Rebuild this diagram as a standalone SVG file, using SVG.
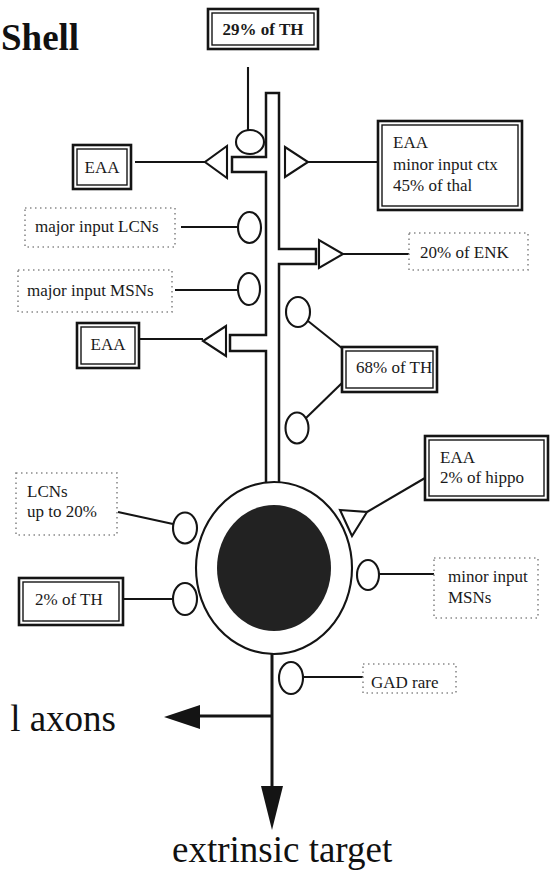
<svg xmlns="http://www.w3.org/2000/svg" width="551" height="871" viewBox="0 0 551 871">
<style>
  .ln{stroke:#141414;stroke-width:2.1;fill:none}
  .sh{stroke:#141414;stroke-width:2.5;fill:none;stroke-linejoin:miter}
  .syn{stroke:#141414;stroke-width:2.1;fill:#fff}
  .bo{fill:#fff;stroke:#141414;stroke-width:2.6}
  .bi{fill:none;stroke:#141414;stroke-width:1.4}
  .dot{fill:#fff;stroke:#8a8a8a;stroke-width:1.6;stroke-dasharray:1.5 3.5}
  .lab{font-family:"Liberation Serif","Times New Roman",serif;font-size:17px;fill:#1a1a1a}
  .big{font-family:"Liberation Serif","Times New Roman",serif;font-size:37px;fill:#111}
</style>

<!-- headings -->
<text class="big" x="1" y="50" font-weight="bold" font-size="33">Shell</text>
<text class="big" x="116" y="731" text-anchor="end" font-size="43">l axons</text>
<text class="big" x="172" y="862">extrinsic target</text>

<!-- neuron body: dendrite shaft, soma, nucleus -->
<g id="neuron">
  <path class="sh" d="M266,482 V351 H230 V335 H266 V172 H232 V157 H266 V93 H279 V249 H316 V264 H279 V482"/>
  <ellipse cx="274" cy="568" rx="78" ry="86" fill="#fff" stroke="#141414" stroke-width="2.1"/>
  <ellipse cx="274" cy="568" rx="57" ry="63" fill="#222"/>
</g>

<!-- synaptic contacts on the neuron -->
<g id="synapses">
  <ellipse class="syn" cx="250" cy="142" rx="14" ry="12"/>
  <polygon class="syn" points="227,146 227,178 205,162"/>
  <polygon class="syn" points="285,147 285,177 308,162"/>
  <ellipse class="syn" cx="249.5" cy="227.5" rx="11.5" ry="15.5"/>
  <polygon class="syn" points="319,240 319,268 343,254"/>
  <ellipse class="syn" cx="249" cy="289" rx="11" ry="16"/>
  <ellipse class="syn" cx="298" cy="312" rx="12" ry="15"/>
  <polygon class="syn" points="226,326 226,356 203,341"/>
  <ellipse class="syn" cx="297" cy="428" rx="11.5" ry="15.5"/>
  <polygon class="syn" points="340,510 367,512 352,536"/>
  <ellipse class="syn" cx="185" cy="528" rx="12" ry="15.5"/>
  <ellipse class="syn" cx="368" cy="575" rx="11" ry="15"/>
  <ellipse class="syn" cx="185" cy="599" rx="12" ry="16"/>
  <ellipse class="syn" cx="291" cy="678" rx="12" ry="16"/>
</g>

<!-- connectors -->
<g id="connectors">
  <line class="ln" x1="248" y1="67" x2="248" y2="130"/>
  <line class="ln" x1="135" y1="162" x2="205" y2="162"/>
  <line class="ln" x1="308" y1="162" x2="378" y2="162"/>
  <line class="ln" x1="181" y1="227" x2="238" y2="227"/>
  <line class="ln" x1="343" y1="254" x2="409" y2="254"/>
  <line class="ln" x1="175" y1="290" x2="238" y2="290"/>
  <line class="ln" x1="140" y1="339" x2="203" y2="339"/>
  <line class="ln" x1="308" y1="321" x2="343" y2="349"/>
  <line class="ln" x1="306" y1="418" x2="342" y2="383"/>
  <line class="ln" x1="367" y1="512" x2="425" y2="478"/>
  <line class="ln" x1="118" y1="512" x2="173" y2="524"/>
  <line class="ln" x1="379" y1="574" x2="434" y2="574"/>
  <line class="ln" x1="123" y1="599" x2="173" y2="599"/>
  <line class="ln" x1="303" y1="677" x2="363" y2="677"/>
  <!-- axon with collateral and main projection -->
  <line x1="272" y1="654" x2="272" y2="790" stroke="#141414" stroke-width="3"/>
  <line x1="272" y1="716" x2="198" y2="716" stroke="#141414" stroke-width="3"/>
  <polygon points="164,717 200,705 200,729" fill="#141414"/>
  <polygon points="272,830 261,786 283,786" fill="#141414"/>
</g>

<!-- labelled input boxes -->
<g id="box-th29">
  <rect class="bo" x="208" y="9" width="110" height="40"/>
  <rect class="bi" x="212" y="13" width="102" height="32"/>
  <text class="lab" x="263" y="35" text-anchor="middle" font-weight="bold" font-size="16">29% of TH</text>
</g>
<g id="box-eaa1">
  <rect class="bo" x="73" y="145" width="58" height="44"/>
  <rect class="bi" x="77" y="149" width="50" height="36"/>
  <text class="lab" x="102" y="173" text-anchor="middle">EAA</text>
</g>
<g id="box-eaa-ctx">
  <rect class="bo" x="378" y="121" width="144" height="89"/>
  <rect class="bi" x="382" y="125" width="136" height="81"/>
  <text class="lab" x="393" y="148">EAA</text>
  <text class="lab" x="393" y="170">minor input ctx</text>
  <text class="lab" x="393" y="191">45% of thal</text>
</g>
<g id="box-lcn-major">
  <rect class="dot" x="25" y="208" width="150" height="39"/>
  <text class="lab" x="35" y="232">major input LCNs</text>
</g>
<g id="box-enk">
  <rect class="dot" x="409" y="233" width="119" height="37"/>
  <text class="lab" x="420" y="258">20% of ENK</text>
</g>
<g id="box-msn-major">
  <rect class="dot" x="18" y="270" width="154" height="42"/>
  <text class="lab" x="27" y="296">major input MSNs</text>
</g>
<g id="box-eaa2">
  <rect class="bo" x="77" y="323" width="62" height="45"/>
  <rect class="bi" x="81" y="327" width="54" height="37"/>
  <text class="lab" x="108" y="350" text-anchor="middle">EAA</text>
</g>
<g id="box-th68">
  <rect class="bo" x="342" y="347" width="95" height="45"/>
  <rect class="bi" x="346" y="351" width="87" height="37"/>
  <text class="lab" x="356" y="373">68% of TH</text>
</g>
<g id="box-eaa-hippo">
  <rect class="bo" x="425" y="436" width="123" height="64"/>
  <rect class="bi" x="429" y="440" width="115" height="56"/>
  <text class="lab" x="440" y="463">EAA</text>
  <text class="lab" x="440" y="483">2% of hippo</text>
</g>
<g id="box-lcn">
  <rect class="dot" x="16" y="473" width="101" height="62"/>
  <text class="lab" x="27" y="497">LCNs</text>
  <text class="lab" x="27" y="517">up to 20%</text>
</g>
<g id="box-msn-minor">
  <rect class="dot" x="434" y="558" width="104" height="60"/>
  <text class="lab" x="448" y="582">minor input</text>
  <text class="lab" x="448" y="603">MSNs</text>
</g>
<g id="box-th2">
  <rect class="bo" x="19" y="578" width="104" height="47"/>
  <rect class="bi" x="23" y="582" width="96" height="39"/>
  <text class="lab" x="35" y="605">2% of TH</text>
</g>
<g id="box-gad">
  <rect class="dot" x="363" y="664" width="93" height="29"/>
  <text class="lab" x="371" y="688" font-size="15">GAD rare</text>
</g>
</svg>
